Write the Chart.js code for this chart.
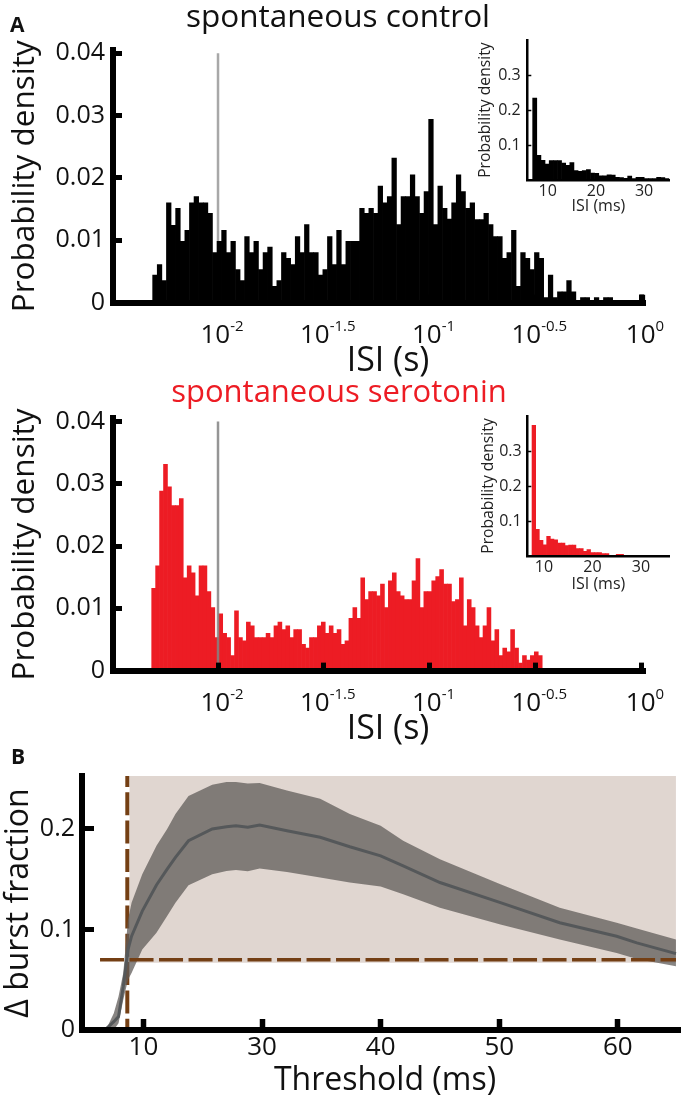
<!DOCTYPE html>
<html>
<head>
<meta charset="utf-8">
<script src="https://cdn.jsdelivr.net/npm/chart.js@4"></script>
<style>
  body { margin: 0; background: #fff; }
  #page { position: relative; width: 682px; height: 1100px; overflow: hidden; font-family: "Open Sans", sans-serif; }
  canvas { position: absolute; }
  .wrap { position: absolute; }
  .t { position: absolute; white-space: nowrap; line-height: 1; transform: translateX(-50%); color: #111; }
  .letter { position: absolute; font-weight: 700; font-size: 21px; line-height: 1; color: #111; }
</style>
</head>
<body>
<div id="page">
  <div class="wrap" style="left:0;top:0;width:682px;height:380px"><canvas id="histControl"></canvas></div>
  <div class="wrap" style="left:0;top:368px;width:682px;height:380px"><canvas id="histSerotonin"></canvas></div>
  <div class="wrap" style="left:470px;top:20px;width:212px;height:200px"><canvas id="insetControl"></canvas></div>
  <div class="wrap" style="left:470px;top:395px;width:212px;height:200px"><canvas id="insetSerotonin"></canvas></div>
  <div class="wrap" style="left:0;top:740px;width:682px;height:360px"><canvas id="burst"></canvas></div>

  <div class="letter" style="left:10px;top:14px">A</div>
  <div class="t" style="left:338px;top:-1px;font-size:31.5px">spontaneous control</div>
  <div class="t" style="left:388px;top:341px;font-size:34px">ISI (s)</div>
  <div class="t" style="left:339px;top:375px;font-size:31px;color:#ed1c24">spontaneous serotonin</div>
  <div class="t" style="left:388px;top:709px;font-size:34px">ISI (s)</div>
  <div class="letter" style="left:11px;top:746px">B</div>
  <div class="t" style="left:385px;top:1062px;font-size:32px">Threshold (ms)</div>
</div>

<script>
// log10 of bin centres, control histogram
const controlBins = [-2.2981,-2.2764,-2.2546,-2.2329,-2.2111,-2.1894,-2.1676,-2.1459,-2.1241,-2.1024,
  -2.0806,-2.0589,-2.0371,-2.0154,-1.9936,-1.9719,-1.9501,-1.9284,-1.9066,-1.8849,
  -1.8631,-1.8414,-1.8196,-1.7979,-1.7761,-1.7544,-1.7326,-1.7109,-1.6891,-1.6674,
  -1.6456,-1.6239,-1.6021,-1.5804,-1.5586,-1.5369,-1.5151,-1.4934,-1.4716,-1.4499,
  -1.4281,-1.4064,-1.3846,-1.3629,-1.3411,-1.3194,-1.2976,-1.2759,-1.2541,-1.2324,
  -1.2106,-1.1889,-1.1671,-1.1454,-1.1236,-1.1019,-1.0801,-1.0584,-1.0366,-1.0149,
  -0.9931,-0.9714,-0.9496,-0.9279,-0.9061,-0.8844,-0.8626,-0.8409,-0.8191,-0.7974,
  -0.7756,-0.7539,-0.7321,-0.7104,-0.6886,-0.6669,-0.6451,-0.6234,-0.6016,-0.5799,
  -0.5581,-0.5364,-0.5146,-0.4929,-0.4711,-0.4494,-0.4276,-0.4059,-0.3841,-0.3624,
  -0.3406,-0.3189,-0.2971,-0.2754,-0.2536,-0.2319,-0.2101,-0.1884,-0.1666,-0.1449,
  -0.1231,-0.1014,-0.0796,-0.0579,-0.0361,-0.0144,0.0074];
const controlDensity = [.0044,.0061,.0035,.016,.0124,.0151,.0098,.0116,.016,.017,
  .016,.016,.0143,.008,.0098,.0116,.008,.0098,.0053,.0035,
  .0106,.008,.0098,.0053,.008,.0089,.0026,.0035,.008,.0071,
  .0061,.0106,.008,.0125,.008,.008,.0044,.0053,.0106,.0061,
  .0116,.0061,.0098,.0098,.0098,.0151,.0143,.0151,.0143,.0187,
  .016,.017,.0232,.0125,.017,.017,.0205,.017,.0143,.0178,
  .0294,.0125,.0187,.0151,.0134,.016,.0205,.0178,.0151,.016,
  .0133,.0133,.0143,.0125,.0106,.0106,.0071,.008,.0116,.0026,
  .008,.0071,.0053,.008,.0071,.0008,.0044,.0008,.0017,.0017,
  .0035,.0017,.0003,.0008,.0008,.0003,.0008,.0003,.0008,.0008,
  .0003,.0003,.0003,.0003,.0003,.0003,.0012];

// log10 of bin centres, serotonin histogram
const serotoninBins = [-2.3042,-2.2856,-2.2669,-2.2483,-2.2296,-2.2110,-2.1923,-2.1737,-2.1550,-2.1364,
  -2.1177,-2.0991,-2.0804,-2.0618,-2.0431,-2.0245,-2.0058,-1.9872,-1.9685,-1.9499,
  -1.9312,-1.9126,-1.8939,-1.8753,-1.8566,-1.8380,-1.8193,-1.8007,-1.7820,-1.7634,
  -1.7447,-1.7261,-1.7074,-1.6888,-1.6701,-1.6515,-1.6328,-1.6142,-1.5955,-1.5769,
  -1.5582,-1.5396,-1.5209,-1.5023,-1.4836,-1.4650,-1.4463,-1.4277,-1.4090,-1.3904,
  -1.3717,-1.3531,-1.3344,-1.3158,-1.2971,-1.2785,-1.2598,-1.2412,-1.2225,-1.2039,
  -1.1852,-1.1666,-1.1479,-1.1293,-1.1106,-1.0920,-1.0733,-1.0547,-1.0360,-1.0174,
  -0.9987,-0.9801,-0.9614,-0.9428,-0.9241,-0.9055,-0.8868,-0.8682,-0.8495,-0.8309,
  -0.8122,-0.7936,-0.7749,-0.7563,-0.7376,-0.7190,-0.7003,-0.6817,-0.6630,-0.6444,
  -0.6257,-0.6071,-0.5884,-0.5698,-0.5511,-0.5325,-0.5138,-0.4952,-0.4765];
const serotoninDensity = [.0132,.0168,.0288,.0331,.0295,.0265,.0265,.0276,.0149,.0168,
  .0157,.012,.0168,.0168,.0127,.0101,.0053,.0091,.006,.0053,
  .0024,.0096,.0053,.0048,.0078,.0072,.0053,.0053,.0053,.006,
  .0053,.0072,.0078,.0066,.0072,.0053,.0066,.0066,.0042,.0036,
  .0053,.0053,.0072,.0078,.006,.0072,.006,.0066,.0042,.0048,
  .0084,.0101,.0084,.0149,.0114,.0127,.0127,.012,.0139,.0101,
  .0144,.0157,.0127,.012,.0114,.0114,.0144,.018,.0101,.0127,
  .0127,.0144,.0151,.0162,.0139,.0139,.0111,.0114,.0149,.0072,
  .0114,.0101,.0072,.0053,.0072,.0101,.0048,.0066,.0024,.0036,
  .003,.0066,.0036,.0012,.0024,.0017,.0024,.003,.0024];

const histXTicks = [-2, -1.5, -1, -0.5, 0];
const histXBase = "10";
const histXPowers = ["-2", "-1.5", "-1", "-0.5", "0"];
const histYTicks = [0, .01, .02, .03, .04];
const histYLabels = ["0", "0.01", "0.02", "0.03", "0.04"];
const markerIsi = -2;

// insets, linear ms
const insetControlBins = [7.31,8.17,9.02,9.88,10.74,11.60,12.45,13.31,14.17,15.02,15.88,16.74,17.59,18.45,19.31,20.17,21.02,
  21.88,22.74,23.59,24.45,25.31,26.17,27.02,27.88,28.74,29.59,30.45,31.31,32.17,33.02,33.88,34.74];
const insetControlDensity = [.236,.071,.057,.046,.056,.056,.056,.049,.042,.05,.027,.025,.027,.03,.02,.019,.012,
  .012,.015,.014,.008,.007,.005,.011,.004,.008,.008,.004,.004,.004,.008,.007,.004];
const insetSerotoninBins = [7.91,8.66,9.42,10.17,10.93,11.68,12.44,13.19,13.95,14.70,15.46,16.21,16.97,17.72,18.48,
  19.23,19.99,20.74,21.50,22.25,23.01,23.76,24.52,25.27,26.03];
const insetSerotoninDensity = [.373,.076,.045,.032,.056,.048,.046,.037,.037,.03,.031,.031,.021,.021,.013,
  .018,.01,.01,.01,.0067,.0067,.002,.002,.005,.005];
const insetXTicks = [10, 20, 30];
const insetYTicks = [.1, .2, .3];
const insetYLabels = ["0.1", "0.2", "0.3"];

// panel B
const thresholds = [16.9,17.5,17.9,18.3,18.7,19.0,19.9,21.1,22.0,22.7,23.8,25.8,27.0,27.8,28.8,29.8,32.1,34.9,37.4,40.0,41.9,45.0,50.1,55.1,59.9,61.6,64.9];
const burstMean = [.0017,.0083,.0133,.0433,.08,.0933,.1183,.1443,.16,.1717,.1883,.20,.2023,.2033,.2017,.204,.1983,.1917,.1823,.1733,.1633,.1467,.1267,.1067,.0933,.0867,.076];
const burstUpper = [.0017,.0167,.0333,.0567,.11,.1267,.155,.1833,.20,.215,.2327,.244,.2467,.2467,.2453,.2457,.2383,.23,.215,.2033,.1883,.17,.145,.1217,.1067,.101,.09];
const burstLower = [0,0,.0067,.03,.05,.0567,.08,.0967,.1133,.1267,.144,.155,.1583,.1593,.158,.1607,.1573,.1517,.1467,.1427,.135,.1217,.105,.09,.0767,.0707,.0633];
const burstXTicks = [20, 30, 40, 50, 60];
const burstXLabels = ["10", "30", "40", "50", "60"];
const burstYTicks = [0, .1, .2];
const burstYLabels = ["0", "0.1", "0.2"];
const cutoffThreshold = 18.64;
const cutoffFraction = .07;

const FONT = '"Open Sans", sans-serif';
const toPoints = (xs, ys) => ys.map((y, i) => ({x: xs[i], y: y}));
const fixedTicks = vals => scale => { scale.ticks = vals.map(v => ({value: v})); };

// 10 to the power tick labels, drawn at the scale's tick positions
const powerTicks = {
  id: 'powerTicks',
  afterDraw(chart) {
    const ctx = chart.ctx, s = chart.scales.x, y = s.top + 40;
    ctx.save();
    ctx.fillStyle = '#111';
    ctx.textBaseline = 'alphabetic';
    histXTicks.forEach((v, i) => {
      ctx.font = '26px ' + FONT;
      const w1 = ctx.measureText(histXBase).width;
      ctx.font = '15px ' + FONT;
      const w2 = ctx.measureText(histXPowers[i]).width;
      const left = s.getPixelForValue(v) + 4 - (w1 + w2) / 2;
      ctx.font = '26px ' + FONT;
      ctx.fillText(histXBase, left, y);
      ctx.font = '15px ' + FONT;
      ctx.fillText(histXPowers[i], left + w1, y - 12);
    });
    ctx.restore();
  }
};

function histogram(id, bins, density, color, xMin, xMax, yMax, topPad, markerOrder, markerColor) {
  new Chart(id, {
    type: 'bar',
    data: {
      datasets: [
        {data: toPoints(bins, density), backgroundColor: color, borderWidth: 0, barPercentage: 1, categoryPercentage: 1, order: 1},
        {type: 'line', data: [{x: markerIsi, y: 0}, {x: markerIsi, y: .04}], borderColor: markerColor, borderWidth: 2.5, pointRadius: 0, order: markerOrder}
      ]
    },
    plugins: [powerTicks],
    options: {
      responsive: false, animation: false,
      layout: {padding: {top: topPad, right: 36.3}},
      plugins: {legend: {display: false}, tooltip: {enabled: false}},
      scales: {
        x: {
          type: 'linear', offset: false, min: xMin, max: xMax,
          afterBuildTicks: fixedTicks(histXTicks),
          afterFit: s => { s.height = 380 - (topPad + yMax * 6230); },
          grid: {offset: false, drawOnChartArea: false, tickLength: -8, tickWidth: 5, tickColor: '#000', z: 1},
          border: {width: 6, color: '#000', z: 1},
          ticks: {callback: () => '', autoSkip: false, maxRotation: 0}
        },
        y: {
          min: 0, max: yMax,
          afterBuildTicks: fixedTicks(histYTicks),
          afterFit: s => { s.width = 113; },
          grid: {drawOnChartArea: false, tickLength: -9, tickWidth: 5, tickColor: '#000', z: 1},
          border: {width: 6, color: '#000', z: 1},
          ticks: {callback: (v, i) => histYLabels[i], padding: 17, color: '#111', font: {family: FONT, size: 25}, autoSkip: false},
          title: {display: true, text: 'Probability density', color: '#111', font: {family: FONT, size: 31.5}, padding: {top: 6, bottom: 0}}
        }
      }
    }
  });
}

function inset(id, bins, density, color, xMin, xMax, yMax, topPad, h, yTitlePad, yTickPad, xTitlePad) {
  new Chart(id, {
    type: 'bar',
    data: {datasets: [{data: toPoints(bins, density), backgroundColor: color, borderWidth: 0, barPercentage: 1, categoryPercentage: 1}]},
    options: {
      responsive: false, animation: false,
      layout: {padding: {top: topPad, right: 12.5}},
      plugins: {legend: {display: false}, tooltip: {enabled: false}},
      scales: {
        x: {
          type: 'linear', offset: false, min: xMin, max: xMax,
          afterBuildTicks: fixedTicks(insetXTicks),
          afterFit: s => { s.height = h; },
          grid: {offset: false, display: false, drawTicks: false},
          border: {width: 2.5, color: '#000', z: 1},
          ticks: {padding: 2, color: '#222', font: {family: FONT, size: 16}, autoSkip: false, maxRotation: 0},
          title: {display: true, text: 'ISI (ms)', color: '#222', font: {family: FONT, size: 16}, padding: {top: 0, bottom: xTitlePad}}
        },
        y: {
          min: 0, max: yMax,
          afterBuildTicks: fixedTicks(insetYTicks),
          afterFit: s => { s.width = 57.3; },
          grid: {drawOnChartArea: false, tickLength: -4, tickWidth: 1.5, tickColor: '#000', z: 1},
          border: {width: 2.5, color: '#000', z: 1},
          ticks: {callback: (v, i) => insetYLabels[i], padding: yTickPad, color: '#222', font: {family: FONT, size: 16}, autoSkip: false},
          title: {display: true, text: 'Probability density', color: '#222', font: {family: FONT, size: 15.7}, padding: {top: yTitlePad, bottom: 0}}
        }
      }
    }
  });
}

function sizeCanvas(id, w, h) {
  const c = document.getElementById(id);
  c.width = w; c.height = h;
  c.style.width = w + 'px'; c.style.height = h + 'px';
}
sizeCanvas('histControl', 682, 380);
sizeCanvas('histSerotonin', 682, 380);
sizeCanvas('insetControl', 212, 200);
sizeCanvas('insetSerotonin', 212, 200);
sizeCanvas('burst', 682, 360);

histogram('histControl', controlBins, controlDensity, '#000', -2.4965, 0.0222, .04053, 50, 2, '#a8a8a8');
histogram('histSerotonin', serotoninBins, serotoninDensity, '#ed1c24', -2.4965, 0.0222, .0405, 50.3, -1, 'rgba(130,130,130,.85)');
inset('insetControl', insetControlBins, insetControlDensity, '#000', 5.77, 35.27, .403, 19, 40, 6.3, 10.6, 4.4);
inset('insetSerotonin', insetSerotoninBins, insetSerotoninDensity, '#ed1c24', 6.56, 35.88, .40, 21, 39, 8.9, 9.6, 1.4);

new Chart('burst', {
  type: 'line',
  data: {
    datasets: [
      // significant region
      {data: [{x: 18.81, y: .2527}, {x: 64.9, y: .2527}], borderWidth: 0, pointRadius: 0, backgroundColor: '#e0d6d0', fill: {value: .067}, order: 6},
      {data: [{x: cutoffThreshold, y: .2527}, {x: cutoffThreshold, y: 0}], borderColor: '#743f14', borderWidth: 4, borderDash: [23, 5.3], borderDashOffset: 12, pointRadius: 0, order: 5},
      {data: toPoints(thresholds, burstUpper), borderWidth: 0, pointRadius: 0, backgroundColor: 'rgba(96,92,90,.75)', fill: '+1', order: 4},
      {data: toPoints(thresholds, burstLower), borderWidth: 0, pointRadius: 0, order: 4},
      {data: [{x: 16.34, y: cutoffFraction}, {x: 64.9, y: cutoffFraction}], borderColor: '#743f14', borderWidth: 3.5, borderDash: [24, 5.5], pointRadius: 0, order: 3},
      {data: toPoints(thresholds, burstMean), borderColor: '#55585a', borderWidth: 3, pointRadius: 0, order: 2}
    ]
  },
  options: {
    responsive: false, animation: false,
    layout: {padding: {top: 36, right: 2}},
    plugins: {legend: {display: false}, tooltip: {enabled: false}},
    scales: {
      x: {
        type: 'linear', min: 14.82, max: 65.24,
        afterBuildTicks: fixedTicks(burstXTicks),
        afterFit: s => { s.height = 70; },
        grid: {drawOnChartArea: false, tickLength: -11, tickWidth: 5.5, tickColor: '#000', z: 1},
        border: {width: 6, color: '#000', z: 1},
        ticks: {callback: (v, i) => burstXLabels[i], padding: 13, color: '#111', font: {family: FONT, size: 26}, autoSkip: false, maxRotation: 0}
      },
      y: {
        min: 0, max: .2527,
        afterBuildTicks: fixedTicks(burstYTicks),
        afterFit: s => { s.width = 82; },
        grid: {drawOnChartArea: false, tickLength: -12, tickWidth: 5, tickColor: '#000', z: 1},
        border: {width: 6, color: '#000', z: 1},
        ticks: {callback: (v, i) => burstYLabels[i], padding: 19, color: '#111', font: {family: FONT, size: 25}, autoSkip: false},
        title: {display: true, text: '\u0394 burst fraction', color: '#111', font: {family: FONT, size: 32}, padding: {top: 0, bottom: 0}}
      }
    }
  }
});
</script>
</body>
</html>
